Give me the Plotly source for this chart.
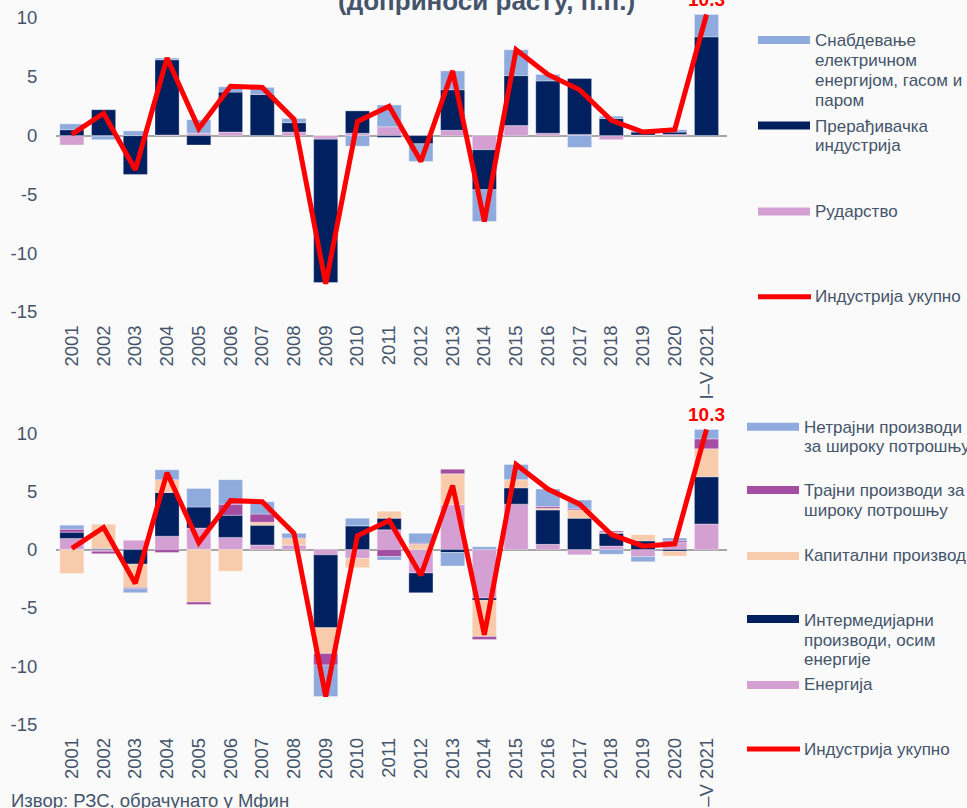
import plotly.graph_objects as go

W, H = 967, 808

# ---------------- data ----------------
categories = [str(y) for y in range(2001, 2021)] + ["I–V 2021"]

# Top chart: contributions by sector
mining = [-0.8, -0.05, 0.0, 0.05, 0.2, 0.3, 0.0, 0.3, -0.3, 0.2, 0.75, 0.0, 0.45, -1.2, 0.85, 0.2, 0.1, -0.35, 0.05, 0.1, 0.0]
manufacturing = [0.5, 2.2, -3.3, 6.4, -0.8, 3.4, 3.5, 0.8, -12.2, 1.9, -0.15, -0.7, 3.45, -3.4, 4.25, 4.45, 4.75, 1.45, 0.25, 0.2, 8.4]
energy_supply = [0.5, -0.3, 0.4, 0.15, 1.15, 0.45, 0.6, 0.35, 0.0, -0.9, 1.85, -1.5, 1.6, -2.7, 2.2, 0.55, -1.0, 0.2, 0.1, 0.2, 1.9]

# Industry total
industry_total = [0.1, 1.9, -2.9, 6.6, 0.6, 4.2, 4.1, 1.4, -12.6, 1.2, 2.5, -2.2, 5.5, -7.3, 7.3, 5.2, 3.9, 1.3, 0.3, 0.5, 10.3]

# Bottom chart: contributions by purpose
energy = [0.95, -0.15, 0.8, 1.15, 1.85, 1.05, 0.4, 0.4, -0.45, -0.75, 1.7, -2.0, 3.85, -4.15, 3.9, 0.45, -0.45, 0.3, -0.6, 0.6, 2.2]
intermediate = [0.55, 0.1, -1.25, 3.75, 1.8, 1.9, 1.7, 0.0, -6.25, 2.05, 1.0, -1.7, -0.25, -0.2, 1.4, 2.95, 2.7, 1.1, 0.75, -0.15, 4.05]
capital = [-2.05, 2.1, -2.0, 1.1, -4.5, -1.85, 0.25, 0.55, -2.2, -0.8, 0.6, 0.45, 2.65, -3.1, 0.7, 0.15, 0.7, 0.1, 0.55, -0.4, 2.4]
durable = [0.25, -0.2, -0.1, -0.25, -0.2, 0.95, 0.7, 0.05, -1.0, 0.0, -0.6, 0.1, 0.4, -0.25, 0.0, 0.15, 0.1, 0.1, 0.0, 0.15, 0.85]
nondurable = [0.35, 0.0, -0.35, 0.85, 1.6, 2.1, 1.05, 0.4, -2.7, 0.65, -0.3, 0.85, -1.15, 0.25, 1.3, 1.5, 0.75, -0.4, -0.45, 0.25, 0.8]

y_ticks = [-15, -10, -5, 0, 5, 10]

# ---------------- styles ----------------
C_LBLUE = "#8FAADC"
C_NAVY = "#002060"
C_PINK = "#D49FD2"
C_PURPLE = "#A34DA3"
C_PEACH = "#F8CBAD"
C_RED = "#FF0000"
C_TEXT = "#44546A"
BG = "#FAFAFA"
FONT = "Liberation Sans, Arial, sans-serif"


def px(x):
    return x / W


def py(y):
    return 1 - y / H


fig = go.Figure()

bar_line = dict(width=0.6, color="rgba(255,255,255,0.55)")

top_series = [
    ("Рударство", mining, C_PINK),
    ("Прерађивачка индустрија", manufacturing, C_NAVY),
    ("Снабдевање електричном енергијом, гасом и паром", energy_supply, C_LBLUE),
]
for name, vals, col in top_series:
    fig.add_trace(go.Bar(x=categories, y=vals, name=name, marker=dict(color=col, line=bar_line),
                         xaxis="x", yaxis="y", showlegend=False))
fig.add_trace(go.Scatter(x=categories, y=industry_total, mode="lines", name="Индустрија укупно",
                         line=dict(color=C_RED, width=5), xaxis="x", yaxis="y", showlegend=False,
                         cliponaxis=False))

bottom_series = [
    ("Енергија", energy, C_PINK),
    ("Интермедијарни производи, осим енергије", intermediate, C_NAVY),
    ("Капитални производи", capital, C_PEACH),
    ("Трајни производи за широку потрошњу", durable, C_PURPLE),
    ("Нетрајни производи за широку потрошњу", nondurable, C_LBLUE),
]
for name, vals, col in bottom_series:
    fig.add_trace(go.Bar(x=categories, y=vals, name=name, marker=dict(color=col, line=bar_line),
                         xaxis="x2", yaxis="y2", showlegend=False))
fig.add_trace(go.Scatter(x=categories, y=industry_total, mode="lines", name="Индустрија укупно",
                         line=dict(color=C_RED, width=5), xaxis="x2", yaxis="y2", showlegend=False,
                         cliponaxis=False))

xdom = [px(56), px(727)]
xaxis_common = dict(
    type="category", showgrid=False, showline=False, zeroline=False,
    tickangle=-90, tickfont=dict(size=18.5, color=C_TEXT, family=FONT),
    ticks="outside", ticklen=5, tickcolor="rgba(0,0,0,0)", automargin=False, domain=xdom,
)
yaxis_common = dict(
    range=[-15, 10.5], tickvals=y_ticks, ticktext=[str(v) for v in y_ticks],
    showgrid=False, showline=False, zeroline=True, zerolinecolor="#A6A6A6", zerolinewidth=1.5,
    tickfont=dict(size=18.5, color=C_TEXT, family=FONT),
    ticks="outside", ticklen=14, tickcolor="rgba(0,0,0,0)", automargin=False,
)

fig.update_layout(
    width=W, height=H,
    margin=dict(l=0, r=0, t=0, b=0),
    paper_bgcolor=BG, plot_bgcolor=BG,
    barmode="relative", bargap=0.24,
    font=dict(family=FONT, color=C_TEXT),
    xaxis=dict(xaxis_common, anchor="y"),
    yaxis=dict(yaxis_common, domain=[py(312), py(12.12)], anchor="x"),
    xaxis2=dict(xaxis_common, anchor="y2"),
    yaxis2=dict(yaxis_common, domain=[py(724.5), py(427.2)], anchor="x2"),
)

annotations = []
shapes = []

# value labels for the last point
for xa, ya in (("x", "y"), ("x2", "y2")):
    annotations.append(dict(x=categories[-1], y=industry_total[-1], xref=xa, yref=ya,
                            text="<b>%.1f</b>" % industry_total[-1], showarrow=False,
                            yanchor="middle", yshift=15,
                            font=dict(size=19, color=C_RED, family=FONT)))

# title (partly cropped at top)
annotations.append(dict(x=px(486), y=py(1), xref="paper", yref="paper",
                        text="<b>(доприноси расту, п.п.)</b>", showarrow=False,
                        xanchor="center", yanchor="middle",
                        font=dict(size=26, color=C_TEXT, family=FONT)))

# source
annotations.append(dict(x=px(9), y=py(800), xref="paper", yref="paper",
                        text="Извор: РЗС, обрачунато у Мфин", showarrow=False,
                        xanchor="left", yanchor="middle",
                        font=dict(size=18.5, color=C_TEXT, family=FONT)))


def legend_text(x, lines, size=17):
    for txt, yc in lines:
        annotations.append(dict(x=px(x), y=py(yc), xref="paper", yref="paper", text=txt,
                                showarrow=False, xanchor="left", yanchor="middle",
                                font=dict(size=size, color=C_TEXT, family=FONT)))


def legend_rect(x0, x1, yc, col):
    shapes.append(dict(type="rect", xref="paper", yref="paper", x0=px(x0), x1=px(x1),
                       y0=py(yc + 4), y1=py(yc - 4), fillcolor=col, line=dict(width=0)))


def legend_line(x0, x1, yc, col):
    shapes.append(dict(type="line", xref="paper", yref="paper", x0=px(x0), x1=px(x1),
                       y0=py(yc), y1=py(yc), line=dict(color=col, width=5)))


# top legend
legend_rect(758, 810, 40, C_LBLUE)
legend_text(813, [("Снабдевање", 40.7), ("електричном", 60.7), ("енергијом, гасом и", 80.2), ("паром", 100)])
legend_rect(758, 810, 125.5, C_NAVY)
legend_text(813, [("Прерађивачка", 126.3), ("индустрија", 145.7)])
legend_rect(758, 810, 211.5, C_PINK)
legend_text(813, [("Рударство", 211.7)])
legend_line(758, 811, 296.7, C_RED)
legend_text(813, [("Индустрија укупно", 296.7)])

# bottom legend
legend_rect(747, 799, 426.7, C_LBLUE)
legend_text(802, [("Нетрајни производи", 427.3), ("за широку потрошњу", 446.7)])
legend_rect(747, 799, 490, C_PURPLE)
legend_text(802, [("Трајни производи за", 490.7), ("широку потрошњу", 510.7)])
legend_rect(747, 799, 556, C_PEACH)
legend_text(802, [("Капитални производи", 555.7)])
legend_rect(747, 799, 619, C_NAVY)
legend_text(802, [("Интермедијарни", 620.7), ("производи, осим", 640), ("енергије", 659.3)])
legend_rect(747, 799, 685, C_PINK)
legend_text(802, [("Енергија", 684.7)])
legend_line(747, 800, 749, C_RED)
legend_text(802, [("Индустрија укупно", 749)])

fig.update_layout(annotations=annotations, shapes=shapes)

fig.write_html(
    "out.html",
    config={"displayModeBar": False},
    post_script=(
        "document.documentElement.style.margin='0';"
        "document.body.style.margin='0';"
        "document.body.style.overflow='hidden';"
        "document.body.style.background='" + BG + "';"
    ),
)
